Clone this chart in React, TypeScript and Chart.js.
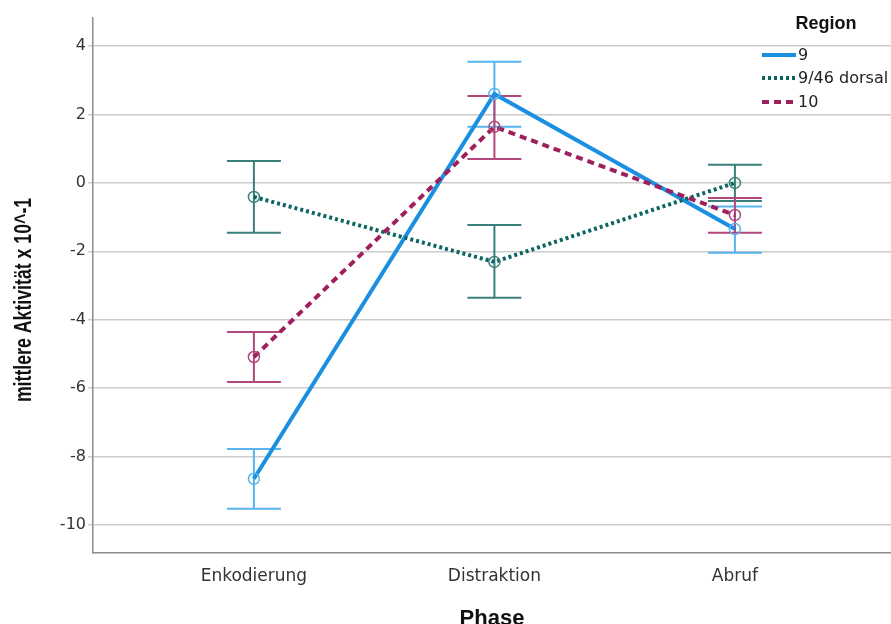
import React, { useEffect, useRef } from "react";
import { Chart, registerables } from "chart.js";

Chart.register(...registerables);

const categories = ["Enkodierung", "Distraktion", "Abruf"];
const seriesNames = ["9", "9/46 dorsal", "10"];

const region9 = [-8.65, 2.6, -1.35];
const region9Low = [-9.53, 1.64, -2.04];
const region9High = [-7.78, 3.54, -0.69];

const region946 = [-0.41, -2.31, 0.0];
const region946Low = [-1.46, -3.36, -0.53];
const region946High = [0.64, -1.23, 0.53];

const region10 = [-5.09, 1.64, -0.94];
const region10Low = [-5.82, 0.7, -1.46];
const region10High = [-4.36, 2.54, -0.44];

const yTicks = [-10, -8, -6, -4, -2, 0, 2, 4];
const yTitle = "mittlere Aktivität x 10^-1";
const xTitle = "Phase";
const legendTitle = "Region";

const lineColors = ["#1b8fe2", "#0b6560", "#9e1f5c"];
const errColors = ["#57b4ef", "#3a7f7a", "#b0487c"];
const dashes: number[][] = [[], [3, 3], [7, 5]];

const allValues = [region9, region946, region10];
const allLow = [region9Low, region946Low, region10Low];
const allHigh = [region9High, region946High, region10High];

const errorBarPlugin = {
  id: "errorBars",
  beforeDatasetsDraw(chart: any) {
    const { ctx, scales } = chart;
    const xs = scales.x;
    const ys = scales.y;
    ctx.save();
    allValues.forEach((vals, i) => {
      ctx.strokeStyle = errColors[i];
      ctx.lineWidth = 2;
      ctx.setLineDash([]);
      vals.forEach((_, j) => {
        const x = xs.getPixelForValue(j);
        const yl = ys.getPixelForValue(allLow[i][j]);
        const yh = ys.getPixelForValue(allHigh[i][j]);
        ctx.beginPath();
        ctx.moveTo(x, yl);
        ctx.lineTo(x, yh);
        ctx.moveTo(x - 27, yl);
        ctx.lineTo(x + 27, yl);
        ctx.moveTo(x - 27, yh);
        ctx.lineTo(x + 27, yh);
        ctx.stroke();
      });
    });
    ctx.restore();
  },
};

const textPlugin = {
  id: "customTexts",
  afterDraw(chart: any) {
    const { ctx } = chart;
    ctx.save();
    // y-axis title (condensed)
    ctx.save();
    ctx.translate(31, 300);
    ctx.rotate(-Math.PI / 2);
    ctx.scale(0.77, 1);
    ctx.fillStyle = "#111";
    ctx.font = "bold 23px 'Liberation Sans', Arial, sans-serif";
    ctx.textAlign = "center";
    ctx.textBaseline = "alphabetic";
    ctx.fillText(yTitle, 0, 0);
    ctx.restore();
    // legend
    ctx.fillStyle = "#111";
    ctx.font = "bold 18px 'Liberation Sans', Arial, sans-serif";
    ctx.textAlign = "center";
    ctx.textBaseline = "middle";
    ctx.fillText(legendTitle, 826, 24);
    const ys = [55, 78, 102];
    seriesNames.forEach((name, i) => {
      ctx.strokeStyle = lineColors[i];
      ctx.lineWidth = 4;
      ctx.lineCap = "butt";
      ctx.setLineDash(dashes[i]);
      ctx.beginPath();
      ctx.moveTo(762, ys[i]);
      ctx.lineTo(796, ys[i]);
      ctx.stroke();
      ctx.setLineDash([]);
      ctx.fillStyle = "#222";
      ctx.font = "16px 'DejaVu Sans', sans-serif";
      ctx.textAlign = "left";
      ctx.fillText(name, 798, ys[i] + 1);
    });
    ctx.restore();
  },
};

export default function App() {
  const ref = useRef<HTMLCanvasElement>(null);
  useEffect(() => {
    if (!ref.current) return;
    const chart = new Chart(ref.current, {
      type: "line",
      data: {
        datasets: allValues.map((vals, i) => ({
          label: seriesNames[i],
          data: vals.map((v, j) => ({ x: j, y: v })),
          borderColor: lineColors[i],
          borderWidth: 4,
          borderDash: dashes[i],
          pointRadius: 5.5,
          pointBorderWidth: 1.5,
          pointBorderColor: errColors[i],
          pointBackgroundColor: "rgba(0,0,0,0)",
          fill: false,
          tension: 0,
          clip: false,
          order: 3 - i,
        })),
      },
      options: {
        responsive: false,
        animation: false,
        layout: { autoPadding: false, padding: { top: 18, right: 0, left: 0, bottom: 0 } },
        plugins: { legend: { display: false }, tooltip: { enabled: false } },
        scales: {
          x: {
            type: "linear",
            min: -0.669,
            max: 2.649,
            afterBuildTicks: (s: any) => {
              s.ticks = categories.map((_, j) => ({ value: j }));
            },
            afterFit: (s: any) => {
              s.height = 71;
              s.paddingLeft = 0;
              s.paddingRight = 0;
            },
            ticks: {
              callback: (v: any) => categories[v] ?? "",
              color: "#333",
              font: { family: "'DejaVu Sans', sans-serif", size: 17 },
              padding: 5,
              maxRotation: 0,
            },
            grid: { display: false },
            border: { display: true, color: "#8c8c8c", width: 1.5 },
            title: {
              display: true,
              text: xTitle,
              color: "#111",
              font: { family: "'Liberation Sans', Arial, sans-serif", size: 22, weight: "bold", lineHeight: 0.46 },
              padding: { top: 0, bottom: 0 },
            },
          },
          y: {
            min: -10.82,
            max: 4.82,
            afterBuildTicks: (s: any) => {
              s.ticks = yTicks.map((v) => ({ value: v }));
            },
            afterFit: (s: any) => {
              s.width = 93;
              s.paddingTop = 0;
              s.paddingBottom = 0;
            },
            ticks: {
              color: "#333",
              font: { family: "'DejaVu Sans', sans-serif", size: 16 },
              padding: 2,
            },
            grid: { color: "#cccccc", lineWidth: 1.5, tickLength: 5, drawTicks: true },
            border: { display: true, color: "#8c8c8c", width: 1.5 },
          },
        },
      },
      plugins: [errorBarPlugin, textPlugin],
    } as any);
    return () => chart.destroy();
  }, []);
  return (
    <div style={{ position: "fixed", left: 0, top: 0, width: 891, height: 624, background: "#fff" }}>
      <canvas ref={ref} width={891} height={624} style={{ display: "block" }} />
    </div>
  );
}
